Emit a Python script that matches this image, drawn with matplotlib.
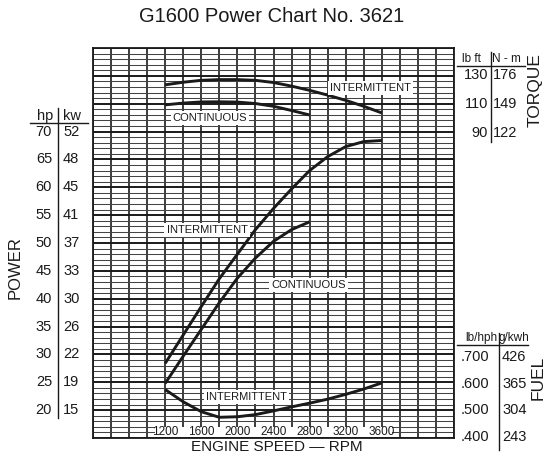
import matplotlib.pyplot as plt
from matplotlib.transforms import blended_transform_factory
from matplotlib.patches import Rectangle

plt.rcParams['font.family'] = ['Liberation Sans', 'DejaVu Sans']

# engine speed (rpm) and the curves
rpm_int = [1200, 1400, 1600, 1800, 2000, 2200, 2400, 2600, 2800, 3000, 3200, 3400, 3600]
rpm_cont = [1200, 1400, 1600, 1800, 2000, 2200, 2400, 2600, 2800]

hp_int = [28.4, 33.5, 38.6, 43.6, 48.0, 52.4, 56.2, 59.7, 63.0, 65.5, 67.3, 68.2, 68.4]
hp_cont = [24.8, 29.7, 34.5, 39.3, 43.7, 47.3, 50.3, 52.4, 53.8]

tq_int = [123.2, 125.0, 126.3, 126.8, 126.8, 126.3, 124.8, 122.3, 119.4, 116.1, 112.5, 108.4, 103.8]
tq_cont = [109.4, 110.6, 111.4, 111.5, 111.3, 110.3, 108.4, 105.5, 102.4]

fuel_int = [0.578, 0.532, 0.495, 0.474, 0.476, 0.484, 0.498, 0.513, 0.527, 0.542, 0.560, 0.580, 0.603]

# scale labels
hp_ticks = [70, 65, 60, 55, 50, 45, 40, 35, 30, 25, 20]
kw_ticks = ['52', '48', '45', '41', '37', '33', '30', '26', '22', '19', '15']
lbft_ticks = [130, 110, 90]
nm_ticks = ['176', '149', '122']
fuel_ticks = [0.700, 0.600, 0.500, 0.400]
gkwh_ticks = ['426', '365', '304', '243']
rpm_labels = [1200, 1600, 2000, 2400, 2800, 3200, 3600]

W, H = 544, 455
L, R, T, B = 93, 454, 48, 438
INK = '#1a1a1a'

fig = plt.figure(figsize=(W / 100, H / 100), dpi=100)
ax = fig.add_axes([L / W, 1 - B / H, (R - L) / W, (B - T) / H])
ax.set_xlim(400, 4400)
ax.set_ylim(15, 85)
ax.set_xticks([])
ax.set_yticks([])
for s in ax.spines.values():
    s.set_linewidth(1.3)
    s.set_color(INK)

# graph paper
for x in range(400, 4401, 200):
    ax.axvline(x, color=INK, lw=1.2, zorder=1)
for y in range(15, 86):
    if y % 5 == 0:
        ax.axhline(y, color=INK, lw=1.4, zorder=1)
    else:
        ax.axhline(y, color='#444444', lw=0.75, zorder=1)

ax_t = ax.twinx()
ax_t.set_ylim(-120.4, 148.6)
ax_t.axis('off')
ax_f = ax.twinx()
ax_f.set_ylim(0.3963, 1.859)
ax_f.axis('off')

lw = 2.1
ax.plot(rpm_int, hp_int, color=INK, lw=lw, zorder=4, solid_capstyle='butt')
ax.plot(rpm_cont, hp_cont, color=INK, lw=lw, zorder=4, solid_capstyle='butt')
ax_t.plot(rpm_int, tq_int, color=INK, lw=lw, solid_capstyle='butt')
ax_t.plot(rpm_cont, tq_cont, color=INK, lw=lw, solid_capstyle='butt')
ax_f.plot(rpm_int, fuel_int, color=INK, lw=lw, solid_capstyle='butt')

box = dict(facecolor='white', edgecolor='none', pad=1.5)
lab = dict(fontsize=8, ha='center', va='center', bbox=box, zorder=5, color=INK)
ax_t.text(3470, 121, 'INTERMITTENT', **lab)
ax_t.text(1697, 100.5, 'CONTINUOUS', **lab)
ax.text(1663, 52.3, 'INTERMITTENT', **lab)
ax.text(2785, 42.4, 'CONTINUOUS', **lab)
ax_f.text(2097, 0.55, 'INTERMITTENT', **lab)

# rpm labels sit inside the bottom row of the grid
ax.add_patch(Rectangle((1090, 15.15), 2620, 1.75, facecolor='white', edgecolor='none', zorder=2))
for r in rpm_labels:
    ax.text(r, 16.0, str(r), fontsize=8.5, ha='center', va='center', zorder=3, color=INK)


def fx(px):
    return (px - L) / (R - L)


def fy(py):
    return (B - py) / (B - T)


num = dict(fontsize=10.5, va='center', color=INK)
hdr = dict(fontsize=8.5, va='center', ha='center', color=INK, transform=ax.transAxes)
rule = dict(color=INK, lw=1, transform=ax.transAxes, clip_on=False)

# power scale (left)
tr = blended_transform_factory(ax.transAxes, ax.transData)
for h, k in zip(hp_ticks, kw_ticks):
    ax.text(fx(52), h, str(h), ha='right', transform=tr, clip_on=False, **num)
    ax.text(fx(63), h, k, ha='left', transform=tr, clip_on=False, **num)
ax.text(fx(45), fy(116), 'hp', ha='center', transform=ax.transAxes, **num)
ax.text(fx(72), fy(116), 'kw', ha='center', transform=ax.transAxes, **num)
ax.plot([fx(30), fx(88)], [fy(123), fy(123)], **rule)
ax.plot([fx(58), fx(58)], [fy(108), fy(418)], **rule)
ax.text(fx(15), fy(268), 'POWER', rotation=90, ha='center', va='center', fontsize=12,
        transform=ax.transAxes, color=INK)

# torque scale (right top)
tr = blended_transform_factory(ax.transAxes, ax_t.transData)
for t, n in zip(lbft_ticks, nm_ticks):
    ax.text(fx(488), t, str(t), ha='right', transform=tr, clip_on=False, **num)
    ax.text(fx(493), t, n, ha='left', transform=tr, clip_on=False, **num)
ax.text(fx(471), fy(59), 'lb ft', **hdr)
ax.text(fx(506), fy(59), 'N - m', **hdr)
ax.plot([fx(457), fx(525)], [fy(66), fy(66)], **rule)
ax.plot([fx(491), fx(491)], [fy(52), fy(142)], **rule)
ax.text(fx(535), fy(90), 'TORQUE', rotation=90, ha='center', va='center', fontsize=12.5,
        transform=ax.transAxes, color=INK)

# fuel scale (right bottom)
tr = blended_transform_factory(ax.transAxes, ax_f.transData)
for f, g in zip(fuel_ticks, gkwh_ticks):
    ax.text(fx(489), f, ('%.3f' % f)[1:], ha='right', transform=tr, clip_on=False, **num)
    ax.text(fx(502), f, g, ha='left', transform=tr, clip_on=False, **num)
ax.text(fx(481), fy(338), 'lb/hph', **hdr)
ax.text(fx(514), fy(338), 'g/kwh', **hdr)
ax.plot([fx(457), fx(528)], [fy(345), fy(345)], **rule)
ax.plot([fx(499), fx(499)], [fy(333), fy(450)], **rule)
ax.text(fx(538), fy(378), 'FUEL', rotation=90, ha='center', va='center', fontsize=12.5,
        transform=ax.transAxes, color=INK)

fig.text(0.5, 1 - 17 / H, 'G1600 Power Chart No. 3621', ha='center', va='center', fontsize=14.5, color=INK)
ax.text(fx(277), fy(447), 'ENGINE SPEED \u2014 RPM', ha='center', va='center', fontsize=11,
        transform=ax.transAxes, color=INK)

fig.savefig('out.png', dpi=100)
